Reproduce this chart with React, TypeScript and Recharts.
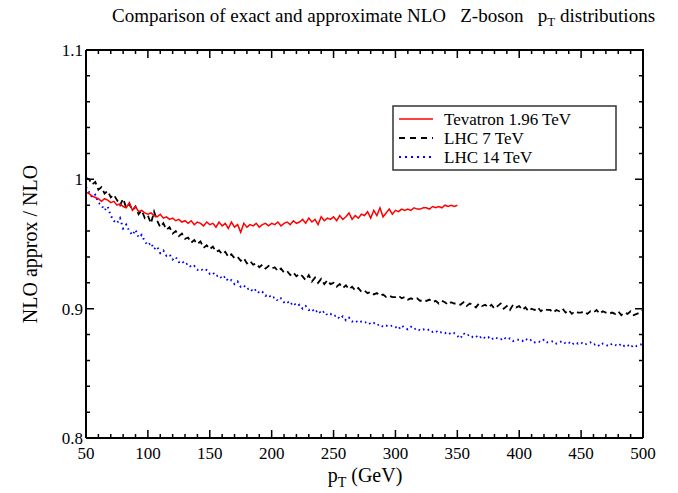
import { Line, LineChart, XAxis, YAxis } from 'recharts';

// pT grid in GeV (2.5 GeV bins)
const ptBins = Array.from({ length: 181 }, (_, i) => 50 + i * 2.5);

const xMajorTicks = [50, 100, 150, 200, 250, 300, 350, 400, 450, 500];
const yMajorTicks = [0.8, 0.9, 1, 1.1];

// NLO approx / NLO ratios, Tevatron runs only up to 350 GeV
const tevatron = [
  0.990, 0.989, 0.987, 0.986, 0.985, 0.983, 0.985, 0.984, 0.982, 0.983,
  0.980, 0.981, 0.979, 0.978, 0.982, 0.976, 0.979, 0.975, 0.976, 0.974,
  0.973, 0.974, 0.972, 0.971, 0.973, 0.970, 0.971, 0.969, 0.970, 0.968,
  0.969, 0.967, 0.968, 0.966, 0.968, 0.965, 0.967, 0.966, 0.964, 0.967,
  0.965, 0.966, 0.963, 0.967, 0.964, 0.966, 0.962, 0.967, 0.963, 0.965,
  0.959, 0.966, 0.963, 0.965, 0.964, 0.966, 0.963, 0.965, 0.966, 0.964,
  0.966, 0.965, 0.967, 0.964, 0.966, 0.967, 0.965, 0.968, 0.966, 0.967,
  0.969, 0.966, 0.970, 0.967, 0.969, 0.965, 0.971, 0.968, 0.970, 0.969,
  0.971, 0.968, 0.972, 0.969, 0.971, 0.974, 0.969, 0.972, 0.970, 0.973,
  0.972, 0.975, 0.970, 0.976, 0.972, 0.978, 0.971, 0.974, 0.977, 0.973,
  0.976, 0.975, 0.977, 0.976, 0.977, 0.976, 0.978, 0.977, 0.977, 0.978,
  0.978, 0.977, 0.979, 0.978, 0.979, 0.978, 0.980, 0.979, 0.980, 0.979,
  0.980,
];

const lhc7 = [
  1.001, 1.000, 0.996, 0.998, 0.992, 0.994, 0.989, 0.991, 0.986, 0.988,
  0.984, 0.980, 0.985, 0.978, 0.981, 0.976, 0.979, 0.973, 0.976, 0.970,
  0.972, 0.966, 0.975, 0.968, 0.963, 0.966, 0.961, 0.963, 0.958, 0.960,
  0.956, 0.958, 0.954, 0.955, 0.951, 0.953, 0.950, 0.952, 0.947, 0.949,
  0.946, 0.948, 0.944, 0.945, 0.942, 0.944, 0.940, 0.942, 0.939, 0.940,
  0.937, 0.939, 0.935, 0.937, 0.934, 0.935, 0.932, 0.934, 0.931, 0.933,
  0.931, 0.932, 0.929, 0.931, 0.928, 0.929, 0.926, 0.928, 0.925, 0.927,
  0.925, 0.922, 0.926, 0.921, 0.924, 0.920, 0.923, 0.919, 0.922, 0.919,
  0.920, 0.917, 0.919, 0.916, 0.918, 0.915, 0.917, 0.914, 0.916, 0.913,
  0.914, 0.912, 0.913, 0.911, 0.912, 0.910, 0.911, 0.909, 0.910, 0.909,
  0.909, 0.910, 0.908, 0.909, 0.907, 0.908, 0.907, 0.908, 0.906, 0.907,
  0.906, 0.907, 0.905, 0.906, 0.904, 0.906, 0.905, 0.903, 0.905, 0.904,
  0.904, 0.903, 0.905, 0.902, 0.904, 0.903, 0.901, 0.904, 0.902, 0.903,
  0.901, 0.903, 0.900, 0.902, 0.904, 0.900, 0.902, 0.899, 0.903, 0.901,
  0.902, 0.899, 0.901, 0.898, 0.900, 0.899, 0.901, 0.898, 0.900, 0.899,
  0.899, 0.897, 0.899, 0.898, 0.900, 0.897, 0.899, 0.896, 0.898, 0.897,
  0.897, 0.898, 0.896, 0.898, 0.897, 0.899, 0.896, 0.898, 0.897, 0.896,
  0.897, 0.896, 0.898, 0.895, 0.897, 0.896, 0.898, 0.895, 0.896, 0.897,
  0.899,
];

const lhc14 = [
  0.994, 0.990, 0.986, 0.988, 0.982, 0.980, 0.976, 0.979, 0.972, 0.968,
  0.966, 0.970, 0.962, 0.965, 0.960, 0.957, 0.961, 0.955, 0.957, 0.952,
  0.949, 0.951, 0.946, 0.948, 0.943, 0.945, 0.941, 0.942, 0.938, 0.940,
  0.936, 0.937, 0.934, 0.935, 0.932, 0.933, 0.930, 0.931, 0.929, 0.930,
  0.927, 0.928, 0.925, 0.926, 0.923, 0.925, 0.921, 0.922, 0.919, 0.921,
  0.917, 0.918, 0.915, 0.916, 0.913, 0.915, 0.912, 0.913, 0.910, 0.911,
  0.908, 0.909, 0.906, 0.908, 0.905, 0.906, 0.903, 0.905, 0.902, 0.903,
  0.900, 0.902, 0.899, 0.900, 0.897, 0.899, 0.896, 0.898, 0.895, 0.896,
  0.894, 0.895, 0.892, 0.894, 0.891, 0.893, 0.890, 0.891, 0.889, 0.890,
  0.889, 0.890, 0.888, 0.889, 0.887, 0.888, 0.886, 0.887, 0.886, 0.887,
  0.886, 0.884, 0.887, 0.885, 0.884, 0.886, 0.884, 0.885, 0.883, 0.884,
  0.883, 0.884, 0.882, 0.883, 0.881, 0.882, 0.881, 0.882, 0.880, 0.881,
  0.879, 0.877, 0.881, 0.879, 0.880, 0.878, 0.879, 0.877, 0.879, 0.877,
  0.878, 0.876, 0.878, 0.877, 0.876, 0.878, 0.876, 0.877, 0.875, 0.876,
  0.876, 0.875, 0.877, 0.875, 0.876, 0.874, 0.875, 0.874, 0.876, 0.874,
  0.874, 0.875, 0.873, 0.874, 0.875, 0.873, 0.874, 0.872, 0.874, 0.873,
  0.874, 0.872, 0.873, 0.874, 0.872, 0.873, 0.871, 0.873, 0.872, 0.871,
  0.873, 0.872, 0.871, 0.873, 0.871, 0.872, 0.870, 0.872, 0.871, 0.872,
  0.873,
];

const chartData = ptBins.map((pt, i) => ({
  pt,
  tevatron: i < tevatron.length ? tevatron[i] : undefined,
  lhc7: lhc7[i],
  lhc14: lhc14[i],
}));

const xTicks = Array.from({ length: 46 }, (_, i) => 50 + i * 10);
const yTicks = Array.from({ length: 16 }, (_, i) => +(0.8 + i * 0.02).toFixed(2));

const FONT = '"Liberation Serif", "DejaVu Serif", serif';
const MAJOR = 8;
const MINOR = 4;

// plot box
const WIDTH = 678;
const HEIGHT = 493;
const PLOT_LEFT = 86;
const PLOT_TOP = 50;
const PLOT_RIGHT = 643;
const PLOT_BOTTOM = 438;

const isMajorX = (v: number) => xMajorTicks.includes(v);
const isMajorY = (v: number) => yMajorTicks.some((m) => Math.abs(m - v) < 1e-6);

// ticks point into the plot, mirrored on the opposite side of the frame
const XTick = ({ x, y, payload }: any) => {
  const major = isMajorX(payload.value);
  const len = major ? MAJOR : MINOR;
  return (
    <g>
      <path d={`M${x},${y}V${y - len}M${x},${PLOT_TOP}V${PLOT_TOP + len}`} stroke="#000" strokeWidth={1.5} fill="none" />
      {major && (
        <text x={x} y={y + 21} textAnchor="middle" fontSize={17} fontFamily={FONT} fill="#000">
          {payload.value}
        </text>
      )}
    </g>
  );
};

const YTick = ({ x, y, payload }: any) => {
  const major = isMajorY(payload.value);
  const len = major ? MAJOR : MINOR;
  return (
    <g>
      <path d={`M${x},${y}H${x + len}M${PLOT_RIGHT},${y}H${PLOT_RIGHT - len}`} stroke="#000" strokeWidth={1.5} fill="none" />
      {major && (
        <text x={x - 3} y={y + 6} textAnchor="end" fontSize={17} fontFamily={FONT} fill="#000">
          {yMajorTicks.find((m) => Math.abs(m - payload.value) < 1e-6)}
        </text>
      )}
    </g>
  );
};

const axisLine = { stroke: '#000', strokeWidth: 2 };

export default function App() {
  return (
    <div style={{ position: 'absolute', left: 0, top: 0, width: WIDTH, height: HEIGHT, background: '#fff' }}>
      <LineChart
        width={WIDTH}
        height={HEIGHT}
        data={chartData}
        margin={{ top: PLOT_TOP, right: WIDTH - PLOT_RIGHT, bottom: 0, left: 0 }}
      >
        <XAxis
          dataKey="pt"
          type="number"
          domain={[50, 500]}
          ticks={xTicks}
          interval={0}
          height={HEIGHT - PLOT_BOTTOM}
          tickSize={0}
          tickMargin={0}
          tickLine={false}
          axisLine={axisLine}
          tick={<XTick />}
        />
        <YAxis
          type="number"
          domain={[0.8, 1.1]}
          ticks={yTicks}
          interval={0}
          width={PLOT_LEFT}
          tickSize={0}
          tickMargin={0}
          tickLine={false}
          axisLine={axisLine}
          tick={<YTick />}
        />
        <Line
          dataKey="lhc14"
          stroke="#0000ff"
          strokeWidth={2}
          strokeDasharray="1.5 3.5"
          dot={false}
          isAnimationActive={false}
        />
        <Line
          dataKey="lhc7"
          stroke="#000"
          strokeWidth={1.8}
          strokeDasharray="6 4"
          dot={false}
          isAnimationActive={false}
        />
        <Line
          dataKey="tevatron"
          stroke="#ff0000"
          strokeWidth={1.5}
          dot={false}
          isAnimationActive={false}
        />
      </LineChart>

      <svg
        width={WIDTH}
        height={HEIGHT}
        style={{ position: 'absolute', left: 0, top: 0, pointerEvents: 'none' }}
        fontFamily={FONT}
      >
        {/* title */}
        <text x={112} y={22} fontSize={19} fill="#000" style={{ whiteSpace: 'pre' }}>
          {'Comparison of exact and approximate NLO   Z-boson   p'}
          <tspan dy={4} fontSize={13}>T</tspan>
          <tspan dy={-4}>{' distributions'}</tspan>
        </text>

        {/* axis titles */}
        <text x={365} y={482} fontSize={20} textAnchor="middle" fill="#000">
          p<tspan dy={5} fontSize={14}>T</tspan>
          <tspan dy={-5}>{' (GeV)'}</tspan>
        </text>
        <text
          x={0}
          y={0}
          fontSize={20}
          textAnchor="middle"
          fill="#000"
          transform="translate(37 244) rotate(-90)"
        >
          NLO approx / NLO
        </text>

        {/* legend */}
        <rect x={393} y={106} width={223} height={64} fill="#fff" stroke="#333" strokeWidth={1.5} />
        <line x1={399} x2={433} y1={119} y2={119} stroke="#ff0000" strokeWidth={1.6} />
        <line x1={399} x2={433} y1={138} y2={138} stroke="#000" strokeWidth={1.8} strokeDasharray="6 5" />
        <line x1={399} x2={433} y1={157} y2={157} stroke="#0000ff" strokeWidth={2} strokeDasharray="2 4" />
        <text x={444} y={125} fontSize={17} fill="#000">Tevatron 1.96 TeV</text>
        <text x={444} y={144} fontSize={17} fill="#000">LHC 7 TeV</text>
        <text x={444} y={163} fontSize={17} fill="#000">LHC 14 TeV</text>

        {/* top and right edges of the frame */}
        <path
          d={`M${PLOT_LEFT},${PLOT_TOP}H${PLOT_RIGHT}V${PLOT_BOTTOM}`}
          stroke="#000"
          strokeWidth={2}
          fill="none"
        />
      </svg>
    </div>
  );
}
